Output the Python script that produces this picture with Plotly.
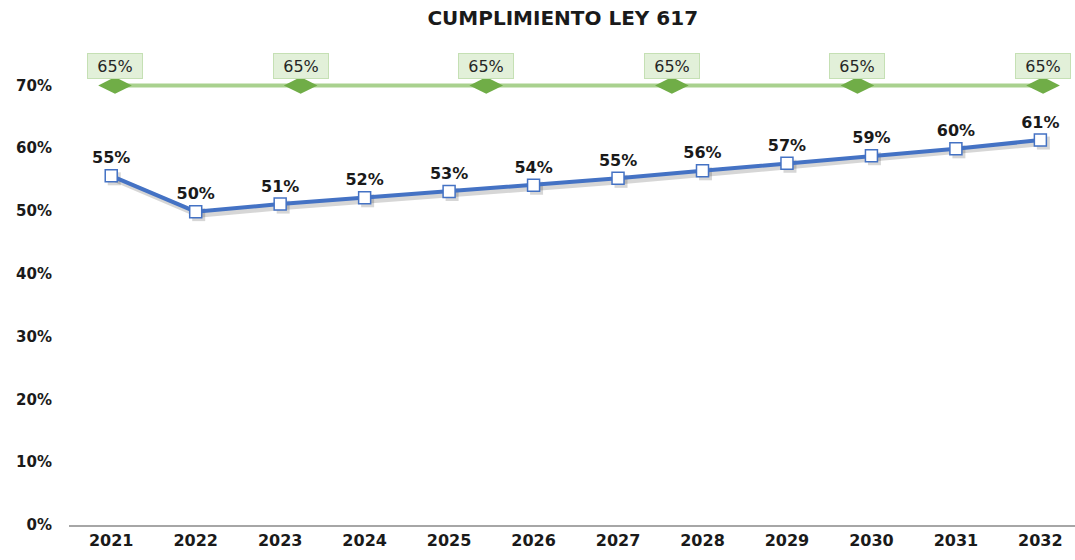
import plotly.graph_objects as go

years = ["2021", "2022", "2023", "2024", "2025", "2026", "2027", "2028", "2029", "2030", "2031", "2032"]
cumplimiento = [0.556, 0.499, 0.511, 0.521, 0.531, 0.541, 0.552, 0.564, 0.576, 0.588, 0.599, 0.613]
cumplimiento_labels = ["55%", "50%", "51%", "52%", "53%", "54%", "55%", "56%", "57%", "59%", "60%", "61%"]
meta = [0.65, 0.65, 0.65, 0.65, 0.65, 0.65]
meta_labels = ["65%", "65%", "65%", "65%", "65%", "65%"]
y_ticks = [0, 0.1, 0.2, 0.3, 0.4, 0.5, 0.6, 0.7]
y_tick_labels = ["0%", "10%", "20%", "30%", "40%", "50%", "60%", "70%"]

FONT = "DejaVu Sans"
meta_x = list(range(len(meta)))

W, H = 1075, 560
ML, MR, MT, MB = 69, 0, 54, 35
ymax = 0.75
xr = [-0.5, 11.41]
# shadow offset in pixels (right, down)
sdx, sdy = 3, 3
px_x = (xr[1] - xr[0]) / (W - ML - MR)
px_y = ymax / (H - MT - MB)

fig = go.Figure()

# invisible carrier trace for the main (tick-bearing) axes
fig.add_trace(go.Scatter(
    x=years, y=cumplimiento, mode="lines", line=dict(width=0), opacity=0,
    hoverinfo="skip", showlegend=False,
))

fig.add_trace(go.Scatter(
    x=meta_x, y=meta, xaxis="x2", yaxis="y2", mode="lines+markers",
    line=dict(color="#A9D18E", width=4),
    marker=dict(symbol="diamond-wide", size=24, color="#70AD47"),
    hoverinfo="skip", showlegend=False,
))

# soft shadow of the blue series (same data, drawn on slightly shifted axes)
fig.add_trace(go.Scatter(
    x=years, y=cumplimiento, xaxis="x3", yaxis="y3", mode="lines+markers",
    line=dict(color="rgba(0,0,0,0.16)", width=6),
    marker=dict(symbol="square", size=13, color="rgba(0,0,0,0.16)"),
    hoverinfo="skip", showlegend=False,
))

fig.add_trace(go.Scatter(
    x=years, y=cumplimiento, xaxis="x4", yaxis="y4", mode="lines+markers+text",
    line=dict(color="#4472C4", width=4),
    marker=dict(symbol="square", size=12, color="white", line=dict(color="#4472C4", width=1.5)),
    text=cumplimiento_labels, textposition="top center",
    textfont=dict(family=FONT, size=16, color="#1a1a1a", weight="bold"),
    showlegend=False,
))

for xi, yi, lab in zip(meta_x, meta, meta_labels):
    fig.add_annotation(
        x=xi, y=yi, xref="x2", yref="y2", text=lab, showarrow=False,
        yshift=19, width=52, height=22, borderpad=1,
        font=dict(family=FONT, size=16, color="#262626"),
        bgcolor="#E2F0D9", bordercolor="#C5E0B4", borderwidth=1,
    )

fig.update_layout(
    width=W, height=H,
    margin=dict(l=ML, r=MR, t=MT, b=MB),
    paper_bgcolor="white", plot_bgcolor="white",
    title=dict(text="CUMPLIMIENTO LEY 617", x=0.5235, xanchor="center", y=0.968, yanchor="middle",
               font=dict(family=FONT, size=20, color="#1a1a1a", weight="bold")),
    xaxis=dict(type="category", categoryarray=years, range=xr, showgrid=False, showline=True,
               linecolor="#A6A6A6", linewidth=1.5, ticks="", zeroline=False, automargin=False,
               tickfont=dict(family=FONT, size=16, color="#1a1a1a", weight="bold")),
    xaxis2=dict(overlaying="x", range=[-0.248, 5.172], visible=False),
    xaxis3=dict(overlaying="x", type="category", categoryarray=years,
                range=[xr[0] - sdx * px_x, xr[1] - sdx * px_x], visible=False),
    xaxis4=dict(overlaying="x", type="category", categoryarray=years, range=xr, visible=False),
    yaxis=dict(range=[0, ymax], tickvals=y_ticks, ticktext=y_tick_labels, showgrid=False,
               showline=False, zeroline=False, ticks="", ticklabelstandoff=16, automargin=False,
               tickfont=dict(family=FONT, size=15, color="#1a1a1a", weight="bold")),
    yaxis2=dict(overlaying="y", range=[0, ymax * 0.65 / 0.70], visible=False),
    yaxis3=dict(overlaying="y", range=[sdy * px_y, ymax + sdy * px_y], visible=False),
    yaxis4=dict(overlaying="y", range=[0, ymax], visible=False),
)

fig.write_html("out.html", config={"displayModeBar": False},
               post_script="document.body.style.margin='0';document.body.style.overflow='hidden';")
